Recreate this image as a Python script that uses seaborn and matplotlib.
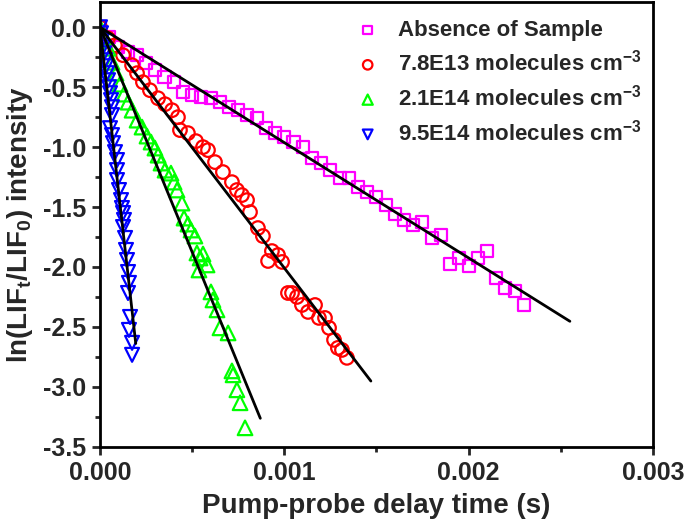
import numpy as np
import matplotlib
matplotlib.use("Agg")
import matplotlib.pyplot as plt
import seaborn as sns
from matplotlib.ticker import MultipleLocator, FormatStrFormatter

# style first, fonts after (set_style resets font.family)
sns.set_style("ticks")
plt.rcParams['font.family'] = ['Liberation Sans', 'DejaVu Sans']
plt.rcParams['font.weight'] = 'bold'
plt.rcParams['axes.unicode_minus'] = False
plt.rcParams['mathtext.fontset'] = 'custom'
plt.rcParams['mathtext.rm'] = 'Liberation Sans:bold'
plt.rcParams['mathtext.default'] = 'rm'

# ---- data (time in s, ln(LIF_t/LIF_0)) ----
t_blank = [0.0, 0.00005, 0.00010, 0.00015, 0.00020, 0.00025, 0.00030, 0.00035,
           0.00040, 0.00045, 0.00050, 0.00055, 0.00060, 0.00065, 0.00070, 0.00075,
           0.00080, 0.00085, 0.00090, 0.00095, 0.00100, 0.00105, 0.00110, 0.00115,
           0.00120, 0.00125, 0.00130, 0.00135, 0.00140, 0.00145, 0.00150, 0.00155,
           0.00160, 0.00165, 0.00170, 0.00175, 0.00180, 0.00185, 0.00190, 0.00195,
           0.00200, 0.00205, 0.00210, 0.00215, 0.00220, 0.00225, 0.00230]
y_blank = [0.0, -0.083, -0.167, -0.208, -0.233, -0.300, -0.358, -0.417,
           -0.458, -0.542, -0.567, -0.583, -0.592, -0.625, -0.667, -0.692,
           -0.733, -0.758, -0.842, -0.883, -0.917, -0.958, -1.000, -1.092,
           -1.133, -1.192, -1.258, -1.258, -1.333, -1.375, -1.417, -1.483,
           -1.558, -1.608, -1.650, -1.625, -1.758, -1.733, -1.975, -1.925,
           -1.992, -1.925, -1.867, -2.092, -2.175, -2.200, -2.317]

t_78e13 = [0.0, 0.000043, 0.000081, 0.000125, 0.000174, 0.000201, 0.000233, 0.000271,
           0.000315, 0.000353, 0.000391, 0.000423, 0.000434, 0.000477, 0.000521, 0.000559,
           0.000586, 0.000624, 0.000667, 0.000716, 0.000743, 0.000770, 0.000798, 0.000814,
           0.000857, 0.000884, 0.000933, 0.000912, 0.000966, 0.000988, 0.001020, 0.001042,
           0.001069, 0.001096, 0.001129, 0.001167, 0.001188, 0.001221, 0.001243, 0.001270,
           0.001291, 0.001313, 0.001340]
y_78e13 = [0.0, -0.092, -0.150, -0.233, -0.317, -0.383, -0.458, -0.525,
           -0.592, -0.642, -0.692, -0.750, -0.858, -0.883, -0.950, -1.000,
           -1.025, -1.125, -1.208, -1.292, -1.358, -1.400, -1.442, -1.542,
           -1.675, -1.742, -1.867, -1.950, -1.900, -1.958, -2.217, -2.217,
           -2.250, -2.317, -2.375, -2.317, -2.425, -2.425, -2.508, -2.608,
           -2.675, -2.692, -2.758]

t_21e14 = [0.0, 0.0000217, 0.0000434, 0.0000651, 0.0000868, 0.0001085, 0.000130, 0.000152,
           0.000174, 0.000201, 0.000228, 0.000255, 0.000277, 0.000298, 0.000315, 0.000331,
           0.000353, 0.000385, 0.000402, 0.000418, 0.000445, 0.000456, 0.000477, 0.000494,
           0.000515, 0.000526, 0.000559, 0.000543, 0.000581, 0.000537, 0.000602, 0.000613,
           0.000635, 0.000651, 0.000695, 0.000716, 0.000722, 0.000743, 0.000760, 0.000787]
y_21e14 = [0.0, -0.075, -0.175, -0.292, -0.383, -0.475, -0.558, -0.625,
           -0.692, -0.775, -0.833, -0.908, -0.958, -1.008, -1.067, -1.133,
           -1.192, -1.217, -1.292, -1.358, -1.467, -1.592, -1.642, -1.692,
           -1.742, -1.883, -1.892, -1.925, -1.983, -2.025, -2.208, -2.275,
           -2.358, -2.508, -2.550, -2.867, -2.900, -3.025, -3.133, -3.342]

t_95e14 = [0.0, 0.0000054, 0.0000109, 0.0000163, 0.0000217, 0.0000271, 0.0000326, 0.000038,
           0.0000434, 0.0000488, 0.0000543, 0.0000597, 0.0000651, 0.0000651, 0.0000543, 0.0000651,
           0.0000705, 0.0000814, 0.0000922, 0.0000922, 0.0000922, 0.000103, 0.000114, 0.000119,
           0.000125, 0.000130, 0.000125, 0.000136, 0.000141, 0.0001465, 0.000152, 0.000157,
           0.000152, 0.000163, 0.000157, 0.000174, 0.000174]
y_95e14 = [0.0, -0.050, -0.108, -0.167, -0.217, -0.275, -0.325, -0.383,
           -0.442, -0.500, -0.550, -0.608, -0.667, -0.733, -0.842, -0.900,
           -0.967, -1.042, -1.108, -1.192, -1.275, -1.358, -1.442, -1.508,
           -1.550, -1.608, -1.667, -1.758, -1.858, -1.942, -2.042, -2.133,
           -2.217, -2.417, -2.525, -2.633, -2.733]

# linear fits through the origin: slope (1/s) and where the drawn line stops (s)
fit_slope = [-962, -2008, -3750, -13600]
fit_end = [0.00255, 0.00147, 0.00087, 0.000194]

labels = ['Absence of Sample',
          '7.8E13 molecules cm$^{-3}$',
          '2.1E14 molecules cm$^{-3}$',
          '9.5E14 molecules cm$^{-3}$']
colors = ['#FF00FF', '#FF0000', '#00FF00', '#0000FF']
markers = ['s', 'o', '^', 'v']
sizes = [75, 95, 110, 100]


def plot_decays(save_path='out.png'):
    """LIF decay curves with linear fits"""
    fig = plt.figure(figsize=(6.85, 5.25), dpi=100)
    ax = fig.add_axes([0.146, 0.149, 0.807, 0.847])

    series = [(t_blank, y_blank), (t_78e13, y_78e13),
              (t_21e14, y_21e14), (t_95e14, y_95e14)]
    for (t, y), lab, c, m, s in zip(series, labels, colors, markers, sizes):
        sns.scatterplot(x=t, y=y, ax=ax, marker=m, s=s, color=c,
                        facecolor='none', edgecolor=c, linewidth=1.6,
                        label=lab, zorder=2)

    # fit lines
    for k, te in zip(fit_slope, fit_end):
        tt = np.array([0.0, te])
        ax.plot(tt, k * tt, color='black', lw=2.0, zorder=3)

    ax.set_xlim(0, 0.003)
    ax.set_ylim(-3.5, 0.21)
    ax.xaxis.set_major_locator(MultipleLocator(0.001))
    ax.xaxis.set_minor_locator(MultipleLocator(0.0005))
    ax.xaxis.set_major_formatter(FormatStrFormatter('%.3f'))
    ax.yaxis.set_major_locator(MultipleLocator(0.5))
    ax.yaxis.set_minor_locator(MultipleLocator(0.25))
    ax.yaxis.set_major_formatter(FormatStrFormatter('%.1f'))

    for sp in ax.spines.values():
        sp.set_linewidth(2.0)
        sp.set_color('black')
    ax.tick_params(which='major', direction='out', length=6, width=2,
                   labelsize=18, top=False, right=False, pad=4)
    ax.tick_params(which='minor', direction='out', length=3.5, width=2,
                   top=False, right=False)
    for lbl in ax.get_xticklabels() + ax.get_yticklabels():
        lbl.set_fontweight('bold')

    ax.set_xlabel('Pump-probe delay time (s)', fontsize=20, fontweight='bold', labelpad=6)
    ax.set_ylabel('ln(LIF$_t$/LIF$_0$) intensity', fontsize=20, fontweight='bold', labelpad=6)

    # legend without frame, top right
    leg = ax.legend(loc='upper left', bbox_to_anchor=(0.44, 0.985), frameon=False,
                    fontsize=16, markerscale=0.7, handletextpad=0.75,
                    labelspacing=0.4, borderaxespad=0.1, handlelength=1.2)
    for txt in leg.get_texts():
        txt.set_fontweight('bold')

    plt.savefig(save_path, dpi=100)
    plt.close()


if __name__ == "__main__":
    plot_decays()
